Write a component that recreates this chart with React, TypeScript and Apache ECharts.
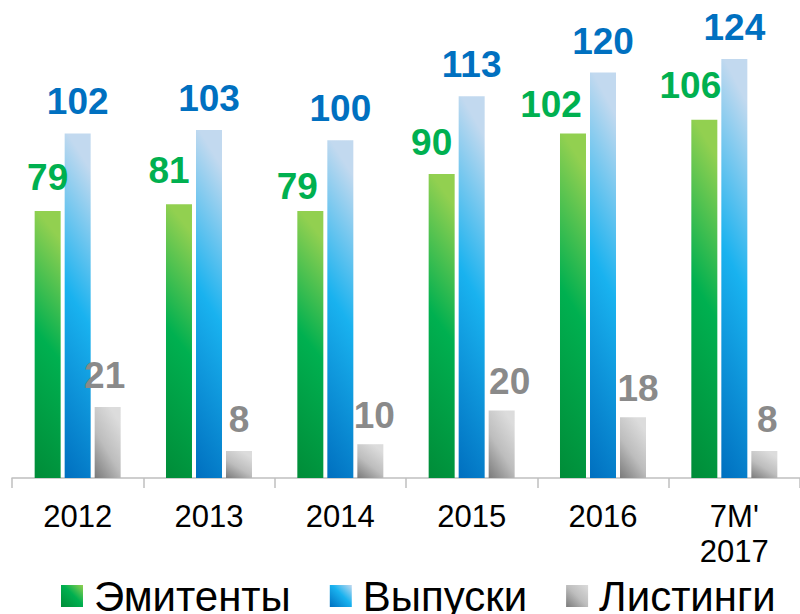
import React, { useEffect, useRef } from "react";
import * as echarts from "echarts";

const categories = ["2012", "2013", "2014", "2015", "2016", "7M'\n2017"];
const seriesNames = ["Эмитенты", "Выпуски", "Листинги"];
const emitents = [79, 81, 79, 90, 102, 106];
const issues = [102, 103, 100, 113, 120, 124];
const listings = [21, 8, 10, 20, 18, 8];

// small manual label nudges as in the original
const emitentNudge = [[0, -2], [-10, -2], [-13, 7], [-10, 0], [-22, 3], [-14, -3]];
const listingNudge = [[-3, 0], [0, 0], [4, 3], [8, 3], [5, 3], [3, 0]];

const FONT = "'Liberation Sans', Arial, Helvetica, sans-serif";

const grad = (x: number, y: number, x2: number, y2: number, stops: [number, string][]) =>
  new echarts.graphic.LinearGradient(
    x,
    y,
    x2,
    y2,
    stops.map(([offset, color]) => ({ offset, color }))
  );

const greenStops: [number, string][] = [
  [0, "#92d050"],
  [0.45, "#00b050"],
  [1, "#008c38"],
];
const blueStops: [number, string][] = [
  [0, "#c2d9ef"],
  [0.45, "#19b2ef"],
  [1, "#006fbf"],
];
const grayStops: [number, string][] = [
  [0, "#dcdcdc"],
  [0.5, "#bdbdbd"],
  [1, "#7a7a7a"],
];

export default function App() {
  const ref = useRef<HTMLDivElement>(null);
  useEffect(() => {
    if (!ref.current) return;
    const chart = echarts.init(ref.current, null, { renderer: "svg" });
    const labelBase = {
      show: true,
      position: "top" as const,
      distance: 13,
      fontSize: 37,
      fontWeight: "bold" as const,
      fontFamily: FONT,
    };
    chart.setOption({
      animation: false,
      backgroundColor: "#ffffff",
      grid: { left: 12, width: 792, top: 5, bottom: 136, containLabel: false },
      legend: {
        left: 56,
        top: 570,
        itemWidth: 22,
        itemHeight: 22,
        itemGap: 39,
        icon: "rect",
        data: [
          { name: seriesNames[0], itemStyle: { color: grad(1, 0, 0, 1, greenStops) } },
          { name: seriesNames[1], itemStyle: { color: grad(1, 0, 0, 1, blueStops) } },
          { name: seriesNames[2], itemStyle: { color: grad(1, 0, 0, 1, grayStops) } },
        ],
        textStyle: {
          fontSize: 42,
          fontFamily: FONT,
          color: "#000000",
          padding: [0, 0, 0, 6],
        },
      },
      xAxis: {
        type: "category",
        data: categories,
        axisLine: { show: true, lineStyle: { color: "#bfbfbf", width: 1.5 } },
        axisTick: { show: true, length: 10, lineStyle: { color: "#bfbfbf", width: 1.5 } },
        axisLabel: {
          fontSize: 31,
          fontFamily: FONT,
          color: "#000000",
          margin: 21,
          lineHeight: 35,
          interval: 0,
        },
      },
      yAxis: {
        type: "value",
        min: 0,
        max: 140,
        show: false,
        splitLine: { show: false },
      },
      series: [
        {
          name: seriesNames[0],
          type: "bar",
          barWidth: 26,
          barGap: "15.4%",
          data: emitents.map((v, i) => ({ value: v, label: { offset: emitentNudge[i] } })),
          itemStyle: { color: grad(0.12, 0, 0, 1, greenStops) },
          label: { ...labelBase, color: "#00b050" },
        },
        {
          name: seriesNames[1],
          type: "bar",
          barWidth: 26,
          barGap: "15.4%",
          data: issues,
          itemStyle: { color: grad(0.12, 0, 0, 1, blueStops) },
          label: { ...labelBase, color: "#0070c0" },
        },
        {
          name: seriesNames[2],
          type: "bar",
          barWidth: 26,
          barGap: "15.4%",
          data: listings.map((v, i) => ({ value: v, label: { offset: listingNudge[i] } })),
          itemStyle: { color: grad(0.6, 0, 0, 1, grayStops) },
          label: { ...labelBase, color: "#8a8a8a" },
        },
      ],
    });
    return () => chart.dispose();
  }, []);
  return (
    <div
      ref={ref}
      style={{ position: "absolute", left: 0, top: 0, width: 800, height: 614 }}
    />
  );
}
